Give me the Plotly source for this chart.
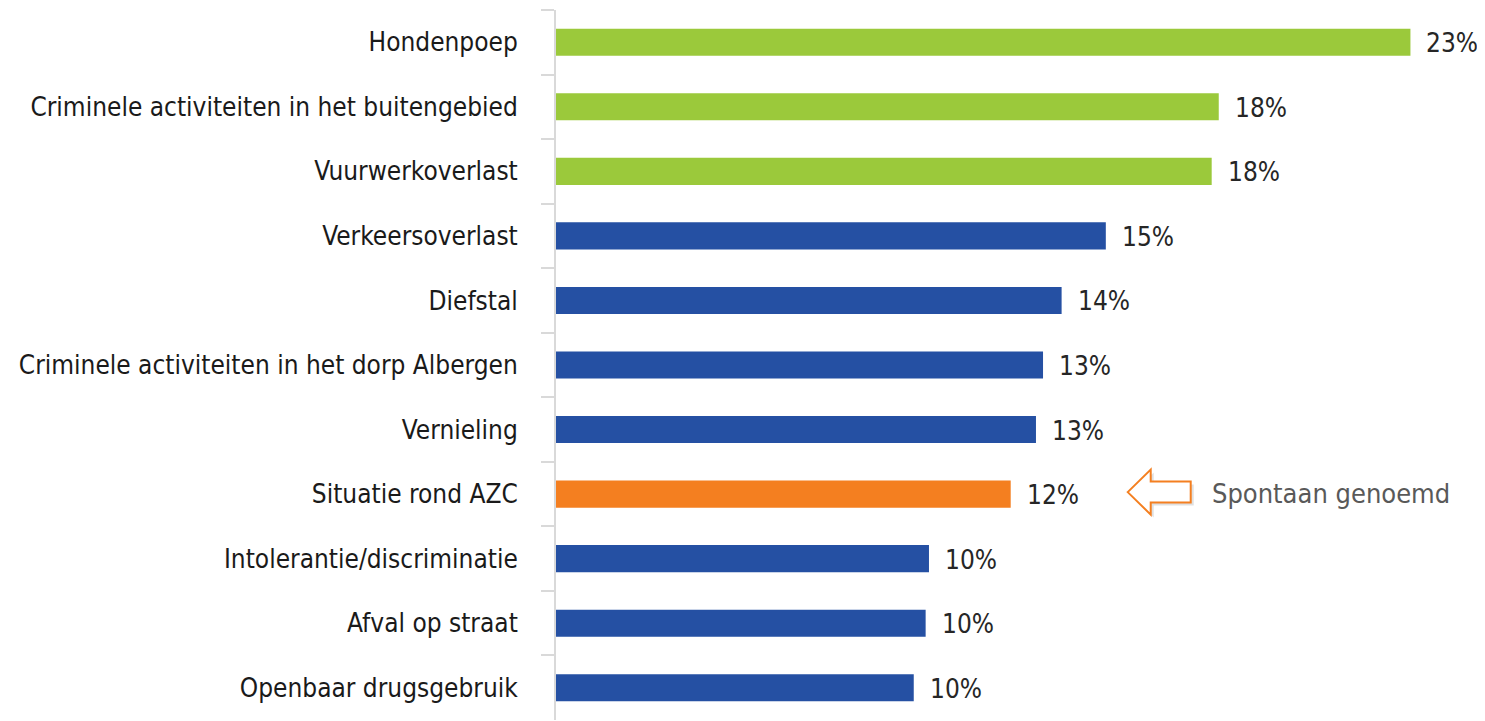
import plotly.graph_objects as go

categories = [
    "Hondenpoep",
    "Criminele activiteiten in het buitengebied",
    "Vuurwerkoverlast",
    "Verkeersoverlast",
    "Diefstal",
    "Criminele activiteiten in het dorp Albergen",
    "Vernieling",
    "Situatie rond AZC",
    "Intolerantie/discriminatie",
    "Afval op straat",
    "Openbaar drugsgebruik",
]
values = [23.0, 17.84, 17.65, 14.80, 13.61, 13.11, 12.92, 12.24, 10.04, 9.95, 9.63]
groups = ["top", "top", "top", "other", "other", "other", "other", "azc", "other", "other", "other"]
value_labels = ["23%", "18%", "18%", "15%", "14%", "13%", "13%", "12%", "10%", "10%", "10%"]
callout_text = "Spontaan genoemd"
callout_category = "Situatie rond AZC"

color_map = {"top": "#9BC93B", "other": "#2550A3", "azc": "#F47F20"}
colors = [color_map[g] for g in groups]

FONT = "DejaVu Sans Condensed, Liberation Sans Narrow, sans-serif"

fig = go.Figure()
fig.add_trace(go.Bar(
    x=values, y=categories, orientation="h",
    marker=dict(color=colors, line=dict(width=0)),
    hoverinfo="skip",
))

annotations = []
for c, v, t in zip(categories, values, value_labels):
    annotations.append(dict(
        x=v, y=c, xref="x", yref="y", text=t, showarrow=False,
        xanchor="left", yanchor="middle", xshift=14, yshift=-1,
        font=dict(family=FONT, size=26, color="#262626"),
    ))

azc_val = values[categories.index(callout_category)]
annotations.append(dict(
    x=azc_val, y=callout_category, xref="x", yref="y", text=callout_text,
    showarrow=False, xanchor="left", yanchor="middle", xshift=199, yshift=1,
    font=dict(family=FONT, size=27, color="#595959"),
))

arrow_path = "M 117 2 L 140 24.5 L 140 12.5 L 180 12.5 L 180 -8.5 L 140 -8.5 L 140 -20.5 Z"
shadow_path = "M 120 -1 L 143 21.5 L 143 9.5 L 183 9.5 L 183 -11.5 L 143 -11.5 L 143 -23.5 Z"
shapes = [
    dict(type="path", xref="x", yref="y", xsizemode="pixel", ysizemode="pixel",
         xanchor=azc_val, yanchor=callout_category, path=shadow_path,
         fillcolor="rgba(0,0,0,0.12)", line=dict(width=0), layer="above"),
    dict(type="path", xref="x", yref="y", xsizemode="pixel", ysizemode="pixel",
         xanchor=azc_val, yanchor=callout_category, path=arrow_path,
         fillcolor="white", line=dict(color="#F47F20", width=2), layer="above"),
]

fig.update_layout(
    width=1477, height=713,
    margin=dict(l=548, r=1, t=2, b=1, autoexpand=False),
    paper_bgcolor="white", plot_bgcolor="white",
    bargap=0.58,
    showlegend=False,
    annotations=annotations,
    shapes=shapes,
    xaxis=dict(range=[0, 24.98], visible=False, fixedrange=True),
    yaxis=dict(
        type="category", autorange="reversed",
        showline=True, linecolor="#D9D9D9", linewidth=2,
        ticks="outside", ticklen=13, tickwidth=2, tickcolor="#D9D9D9",
        tickson="boundaries", showgrid=False,
        tickfont=dict(family=FONT, size=26, color="#1A1A1A"),
        ticklabelstandoff=31,
        fixedrange=True,
    ),
)

fig.write_html("out.html")
